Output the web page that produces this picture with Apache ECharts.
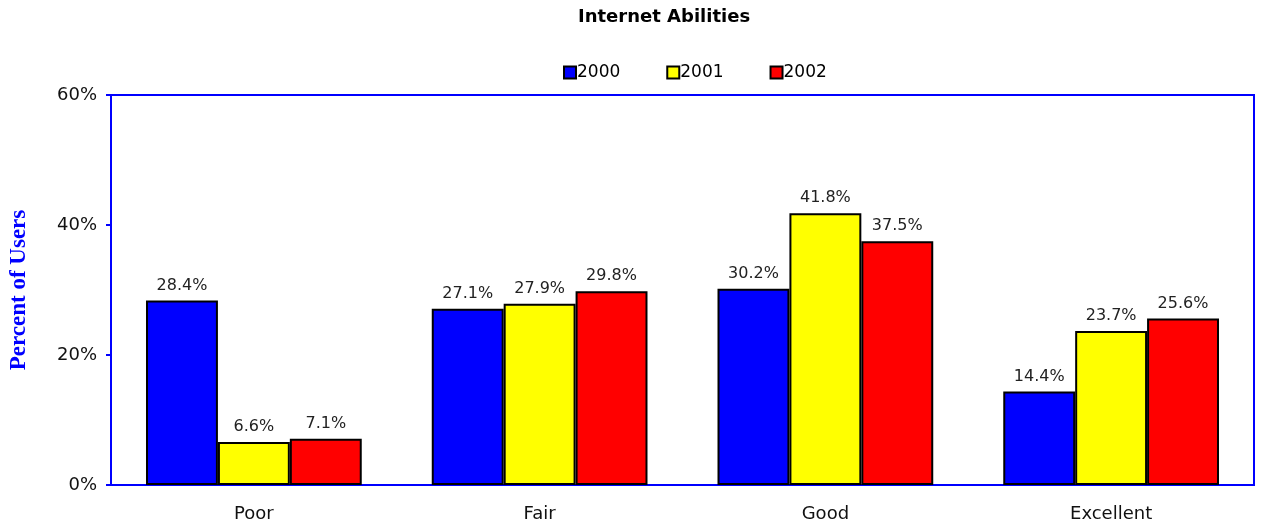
<!DOCTYPE html>
<html>
<head>
<meta charset="utf-8">
<script src="https://cdn.jsdelivr.net/npm/echarts@6/dist/echarts.min.js"></script>
<style>
  html, body { margin: 0; padding: 0; background: #fff; }
  #chart { width: 1265px; height: 527px; }
</style>
</head>
<body>
<div id="chart"></div>
<script>
const categories = ['Poor', 'Fair', 'Good', 'Excellent'];
const years = ['2000', '2001', '2002'];
const values2000 = [28.4, 27.1, 30.2, 14.4];
const values2001 = [6.6, 27.9, 41.8, 23.7];
const values2002 = [7.1, 29.8, 37.5, 25.6];
const yTicks = [0, 20, 40, 60];

const colors = ['#0000ff', '#ffff00', '#ff0000'];
const font = 'DejaVu Sans, Verdana, sans-serif';

const chart = echarts.init(document.getElementById('chart'));

const makeSeries = (name, data, color) => ({
  name,
  type: 'bar',
  data,
  barGap: '0%',
  barCategoryGap: '24.5%',
  itemStyle: { color, borderColor: '#000', borderWidth: 2 },
  label: {
    show: true,
    position: 'top',
    distance: 7,
    formatter: p => p.value.toFixed(1) + '%',
    color: '#222',
    fontSize: 16,
    fontFamily: font
  }
});

const option = {
  animation: false,
  backgroundColor: '#fff',
  title: {
    text: 'Internet Abilities',
    left: 573,
    top: 3,
    textStyle: { fontSize: 18, fontWeight: 'bold', color: '#000', fontFamily: font }
  },
  legend: {
    data: years,
    top: 59,
    left: 558,
    itemWidth: 12,
    itemHeight: 12,
    itemGap: 46,
    icon: 'rect',
    textStyle: { fontSize: 17, color: '#000', fontFamily: font, padding: [0, 0, 0, -4] }
  },
  grid: {
    left: 111,
    right: 11,
    top: 95,
    bottom: 42,
    outerBoundsMode: 'none',
    containLabel: false,
    show: true,
    borderColor: '#0000ff',
    borderWidth: 2,
    backgroundColor: 'transparent'
  },
  xAxis: {
    type: 'category',
    data: categories,
    axisLine: { lineStyle: { color: '#0000ff', width: 2 } },
    axisTick: { show: false },
    axisLabel: { fontSize: 18, color: '#111', fontFamily: font, margin: 20 }
  },
  yAxis: {
    type: 'value',
    min: yTicks[0],
    max: yTicks[yTicks.length - 1],
    interval: 20,
    name: 'Percent of Users',
    nameLocation: 'middle',
    nameGap: 80,
    nameTextStyle: { fontSize: 23, fontWeight: 'bold', color: '#0000ff', fontFamily: 'Liberation Serif, Times New Roman, serif' },
    axisLine: { show: true, lineStyle: { color: '#0000ff', width: 2 } },
    axisTick: { show: true, length: 5, lineStyle: { color: '#0000ff', width: 2 } },
    splitLine: { show: false },
    axisLabel: { fontSize: 18, color: '#111', fontFamily: font, margin: 14, formatter: v => v + '%' }
  },
  series: [
    makeSeries(years[0], values2000, colors[0]),
    makeSeries(years[1], values2001, colors[1]),
    makeSeries(years[2], values2002, colors[2])
  ]
};

chart.setOption(option);
</script>
</body>
</html>
